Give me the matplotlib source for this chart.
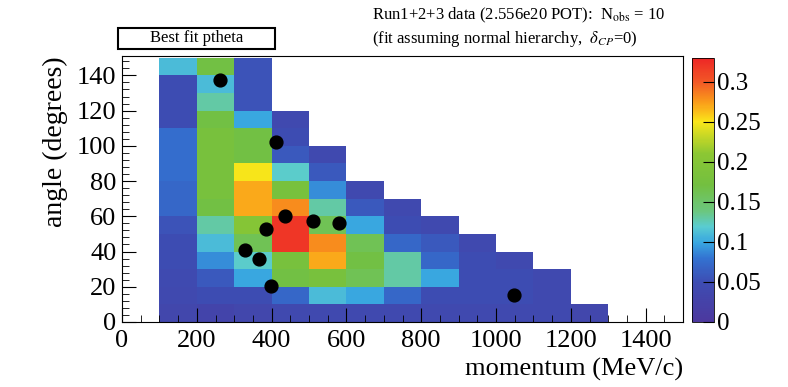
import numpy as np
import matplotlib
matplotlib.use('Agg')
import matplotlib.pyplot as plt
from matplotlib.colors import LinearSegmentedColormap
from matplotlib.patches import Rectangle
from matplotlib.ticker import MultipleLocator

plt.rcParams['font.family'] = ['Liberation Serif', 'DejaVu Serif']
plt.rcParams['mathtext.fontset'] = 'stix'

# momentum bins (MeV/c) and angle bins (degrees)
p_edges = np.arange(100, 1400, 100)
theta_edges = np.arange(0, 160, 10)

# expected pdf per momentum column, angle bins from 0-10 upward
col_100 = [0.035, 0.04, 0.045, 0.05, 0.05, 0.055, 0.07, 0.07, 0.075, 0.075, 0.075, 0.05, 0.05, 0.05, 0.11]
col_200 = [0.03, 0.05, 0.06, 0.09, 0.11, 0.13, 0.17, 0.18, 0.18, 0.18, 0.18, 0.17, 0.13, 0.11, 0.17]
col_300 = [0.035, 0.05, 0.10, 0.12, 0.16, 0.20, 0.27, 0.27, 0.25, 0.17, 0.17, 0.10, 0.055, 0.055, 0.055]
col_400 = [0.04, 0.07, 0.17, 0.18, 0.32, 0.32, 0.28, 0.18, 0.12, 0.06, 0.05, 0.04]
col_500 = [0.04, 0.11, 0.18, 0.27, 0.28, 0.16, 0.13, 0.09, 0.06, 0.04]
col_600 = [0.04, 0.10, 0.16, 0.17, 0.16, 0.10, 0.06, 0.04]
col_700 = [0.04, 0.07, 0.13, 0.13, 0.07, 0.05, 0.04]
col_800 = [0.04, 0.05, 0.10, 0.07, 0.06, 0.04]
col_900 = [0.04, 0.05, 0.05, 0.05, 0.04]
col_1000 = [0.04, 0.05, 0.05, 0.04]
col_1100 = [0.04, 0.04, 0.04]
col_1200 = [0.035]

# observed events
evt_p = [263, 412, 437, 510, 581, 384, 330, 365, 399, 1048]
evt_theta = [137.5, 102, 60, 57.5, 56, 52.6, 41, 35.6, 20.4, 15.3]

cbar_ticks = [0, 0.05, 0.1, 0.15, 0.2, 0.25, 0.3]

columns = [col_100, col_200, col_300, col_400, col_500, col_600,
           col_700, col_800, col_900, col_1000, col_1100, col_1200]
grid = np.full((len(theta_edges) - 1, len(p_edges) - 1), np.nan)
for i, col in enumerate(columns):
    grid[:len(col), i] = col

root_pal = LinearSegmentedColormap.from_list('root', [
    (0.00, (0.30, 0.22, 0.62)),
    (0.15, (0.24, 0.30, 0.70)),
    (0.24, (0.20, 0.45, 0.82)),
    (0.30, (0.22, 0.65, 0.88)),
    (0.36, (0.35, 0.80, 0.82)),
    (0.42, (0.42, 0.78, 0.50)),
    (0.52, (0.45, 0.75, 0.25)),
    (0.64, (0.55, 0.78, 0.20)),
    (0.76, (0.98, 0.90, 0.10)),
    (0.83, (0.98, 0.62, 0.10)),
    (0.91, (0.95, 0.35, 0.15)),
    (1.00, (0.93, 0.15, 0.15)),
])

W, H = 788, 387
fig = plt.figure(figsize=(W / 100, H / 100), dpi=100)
ax = fig.add_axes([122 / W, (H - 322) / H, (683 - 122) / W, (322 - 56) / H])
cax = fig.add_axes([692 / W, (H - 322) / H, (714 - 692) / W, (322 - 58) / H])

mesh = ax.pcolormesh(p_edges, theta_edges, np.ma.masked_invalid(grid),
                     cmap=root_pal, vmin=0, vmax=0.33)
ax.scatter(evt_p, evt_theta, s=85, color='black', zorder=3)

ax.set_xlim(0, 1500)
ax.set_ylim(0, 151)
ax.xaxis.set_major_locator(MultipleLocator(200))
ax.xaxis.set_minor_locator(MultipleLocator(50))
ax.yaxis.set_major_locator(MultipleLocator(20))
ax.yaxis.set_minor_locator(MultipleLocator(4))
ax.tick_params(which='both', direction='in', labelsize=19)
ax.tick_params(axis='x', pad=6)
ax.tick_params(axis='y', pad=4)
ax.tick_params(which='major', length=10)
ax.tick_params(which='minor', length=5)
ax.set_xlabel('momentum (MeV/c)', fontsize=19, loc='right', labelpad=4)
ax.set_ylabel('angle (degrees)', fontsize=20, loc='top', labelpad=6)

cb = fig.colorbar(mesh, cax=cax, ticks=cbar_ticks)
cb.ax.set_yticklabels(['0', '0.05', '0.1', '0.15', '0.2', '0.25', '0.3'])
cb.ax.tick_params(direction='in', length=8, labelsize=18, pad=2)
cb.outline.set_linewidth(0.6)

fig.text(372 / W, 1 - 15 / H, r'Run1+2+3 data (2.556e20 POT):  N$_{\rm obs}$ = 10',
         fontsize=12, va='center')
fig.text(372 / W, 1 - 39 / H, r'(fit assuming normal hierarchy,  $\delta_{CP}$=0)',
         fontsize=12, va='center')

fig.patches.append(Rectangle((118 / W, 1 - 49 / H), (275 - 118) / W, 21 / H,
                             transform=fig.transFigure, fill=False,
                             edgecolor='black', linewidth=1.5))
fig.text((118 + 275) / 2 / W, 1 - 38.5 / H, 'Best fit ptheta', fontsize=12,
         ha='center', va='center')

fig.savefig('out.png', dpi=100)
